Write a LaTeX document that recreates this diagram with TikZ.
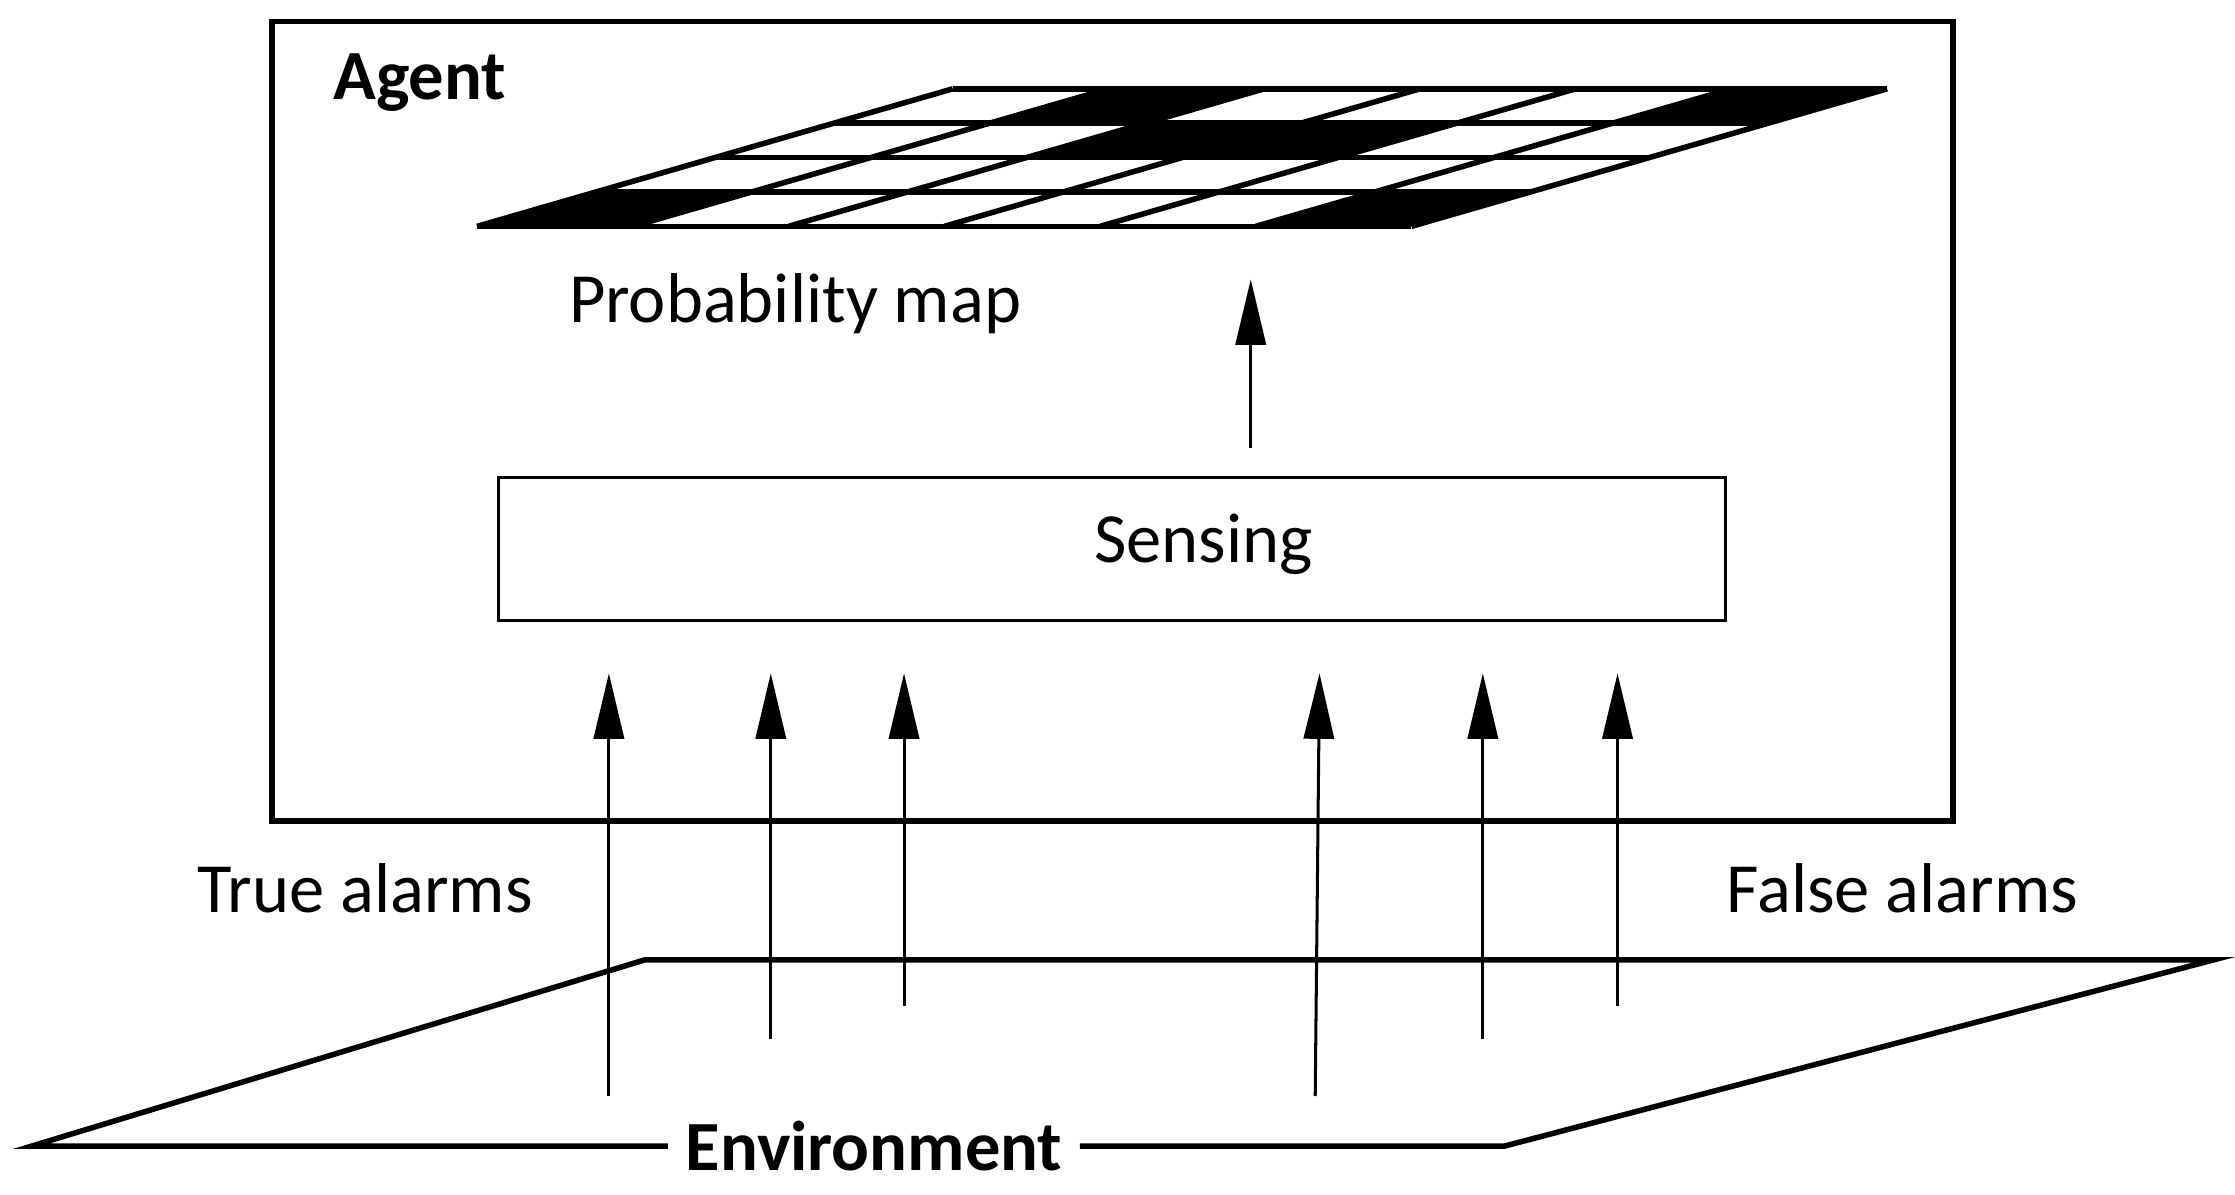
\documentclass[tikz,border=0pt]{standalone}
\usepackage{fontspec}
\setmainfont{Carlito}
\usetikzlibrary{arrows.meta}

\tikzset{
  box/.style={draw, line width=1.1pt},
  lbl/.style={font=\fontsize{14}{16}\selectfont},
  up/.style={-{Triangle[length=13pt,width=6pt]}, line width=0.6pt}
}

\begin{document}
\begin{tikzpicture}[x=0.01cm, y=-0.01cm]
\useasboundingbox (0,0) rectangle (1560,834);
% Agent box
\draw[box] (190,15) rectangle (1363,573);
\node[lbl, font=\fontsize{14}{16}\selectfont\bfseries] (agent) at (293,58) {Agent};
% Probability map grid
\foreach \r/\c in {0/0,0/5,2/2,2/3,3/1,3/5}
  \fill ({333+\c*108.7+\r*83},{158-\r*24}) -- ++(108.7,0) -- ++(83,-24) -- ++(-108.7,0) -- cycle;
\foreach \r in {0,...,4}
  \draw[line width=1.1pt] ({333+\r*83},{158-\r*24}) -- ++(652,0);
\foreach \c in {0,...,6}
  \draw[line width=1.1pt] ({333+\c*108.7},158) -- ++(332,-96);
\node[lbl] (map) at (555,212) {Probability map};
% Sensing
\node[draw, line width=0.6pt, minimum width=8.56cm, minimum height=1cm, lbl] (sensing) at (776,383) {};
\node[lbl] (senstext) at (840,380) {Sensing};
\coordinate (s0) at (873,313);
\coordinate (s1) at (873,195);
\draw[up] (s0) -- (s1);
% Environment
\node[lbl, font=\fontsize{14}{16}\selectfont\bfseries] (env) at (610,800) {Environment};
\draw[box] (env.west) -- (22,800) -- (450,670) -- (1545,670) -- (1050,800) -- (env.east);
\node[lbl] (true) at (255,620) {True alarms};
\node[lbl] (false) at (1328,620) {False alarms};
% alarms
\foreach \i/\xa/\ya/\xb in {1/425/765/425, 2/538/725/538, 3/631/702/631, 4/918/765/921, 5/1035/725/1035, 6/1129/702/1129} {
  \coordinate (a\i) at (\xa,\ya);
  \coordinate (b\i) at (\xb,470);
  \draw[up] (a\i) -- (b\i);
}
\end{tikzpicture}
\end{document}
